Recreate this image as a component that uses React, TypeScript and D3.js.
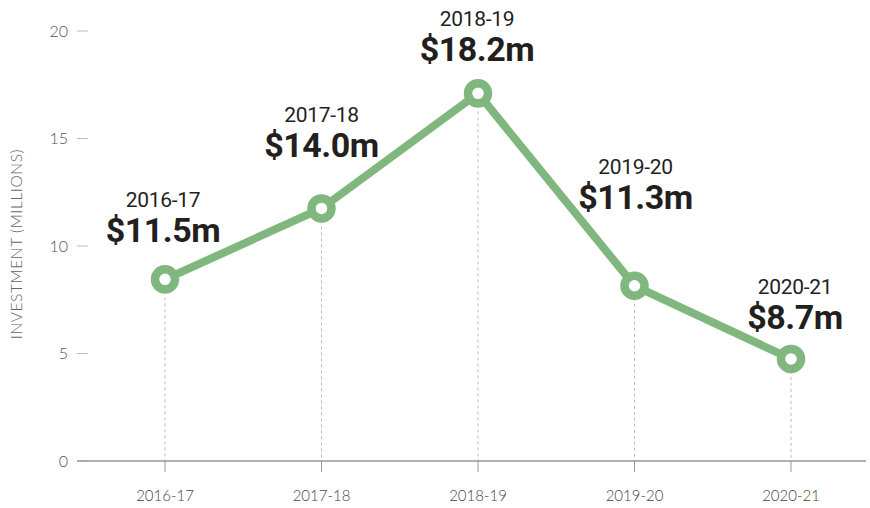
import React from "react";
import * as d3 from "d3";

const categories = ["2016-17", "2017-18", "2018-19", "2019-20", "2020-21"];
const values = [8.45, 11.75, 17.1, 8.15, 4.75];
const valueLabels = ["$11.5m", "$14.0m", "$18.2m", "$11.3m", "$8.7m"];
const yTicks = [0, 5, 10, 15, 20];
// label baseline offsets (px above the point) – styling only
const labelOffsets = [37, 51, 32, 77, 30];
const labelDx = [-2, 0, -1, 1, 4];

const W = 870;
const H = 508;
const GREEN = "#7fb77e";

export default function App() {
  const x = d3.scalePoint<string>().domain(categories).range([165, 791]);
  const y = d3.scaleLinear().domain([0, 20]).range([461, 31]);
  const line = d3
    .line<number>()
    .x((_, i) => x(categories[i]) as number)
    .y((d) => y(d));

  return (
    <svg
      width={W}
      height={H}
      style={{ position: "absolute", left: 0, top: 0, background: "#fff" }}
    >
      {/* y axis label */}
      <text
        transform={`translate(22,244) rotate(-90)`}
        textAnchor="middle"
        fontFamily="Lato, 'Open Sans', sans-serif"
        fontWeight={300}
        fontSize={15.5}
        fill="#666"
        letterSpacing={0.6}
      >
        INVESTMENT (MILLIONS)
      </text>
      {/* y ticks */}
      {yTicks.map((t) => (
        <g key={t}>
          <line x1={77} x2={88} y1={y(t)} y2={y(t)} stroke="#bbb" strokeWidth={1} />
          <text
            x={68}
            y={y(t)}
            dy="0.35em"
            textAnchor="end"
            fontFamily="Lato, 'Open Sans', sans-serif"
            fontWeight={300}
            fontSize={16}
            fill="#555"
          >
            {t}
          </text>
        </g>
      ))}
      {/* drop lines */}
      {values.map((v, i) => (
        <line
          key={"d" + i}
          x1={x(categories[i])}
          x2={x(categories[i])}
          y1={y(v)}
          y2={y(0)}
          stroke="#bbb"
          strokeWidth={1}
          strokeDasharray="3,3"
        />
      ))}
      {/* x axis */}
      <line x1={77} x2={866} y1={y(0)} y2={y(0)} stroke="#999" strokeWidth={1.5} />
      {categories.map((c) => (
        <g key={c}>
          <line
            x1={x(c)}
            x2={x(c)}
            y1={y(0)}
            y2={y(0) + 11}
            stroke="#999"
            strokeWidth={1}
          />
          <text
            x={x(c)}
            y={501}
            textAnchor="middle"
            fontFamily="Lato, 'Open Sans', sans-serif"
            fontWeight={300}
            fontSize={15}
            fill="#444"
          >
            {c}
          </text>
        </g>
      ))}
      {/* line */}
      <path
        d={line(values) || ""}
        fill="none"
        stroke={GREEN}
        strokeWidth={8}
        strokeLinejoin="round"
      />
      {values.map((v, i) => (
        <circle
          key={"c" + i}
          cx={x(categories[i])}
          cy={y(v)}
          r={10}
          fill="#fff"
          stroke={GREEN}
          strokeWidth={8.5}
        />
      ))}
      {/* labels */}
      {values.map((v, i) => {
        const cx = (x(categories[i]) as number) + labelDx[i];
        const base = y(v) - labelOffsets[i];
        return (
          <g key={"l" + i}>
            <text
              x={cx}
              y={base - 35}
              textAnchor="middle"
              fontFamily="Roboto, sans-serif"
              fontWeight={400}
              fontSize={21}
              fill="#231f20"
              letterSpacing={-0.3}
            >
              {categories[i]}
            </text>
            <text
              x={cx}
              y={base}
              textAnchor="middle"
              fontFamily="Roboto, sans-serif"
              fontWeight={700}
              fontSize={34}
              fill="#231f20"
              letterSpacing={-0.5}
            >
              {valueLabels[i]}
            </text>
          </g>
        );
      })}
    </svg>
  );
}
